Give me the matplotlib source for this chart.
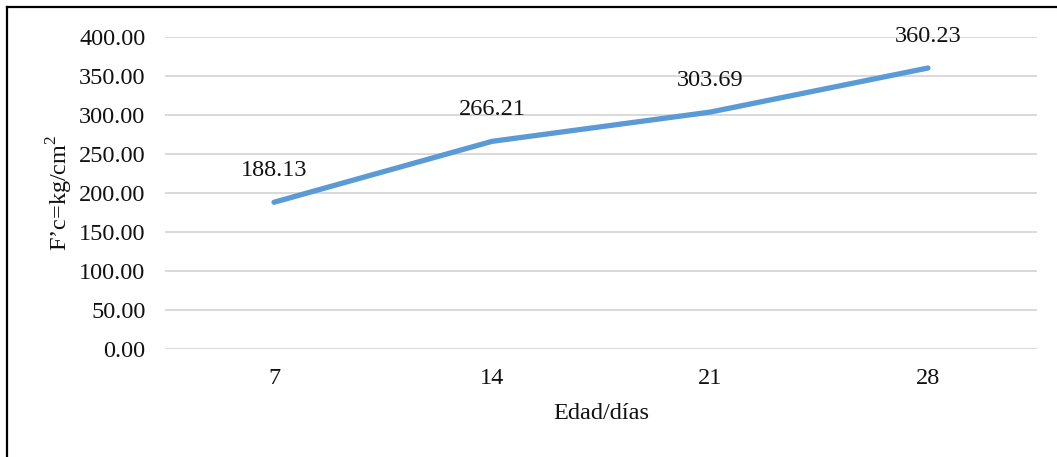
import matplotlib

matplotlib.use("Agg")
import matplotlib.pyplot as plt
from matplotlib.lines import Line2D

# compressive strength by curing age
edades = ["7", "14", "21", "28"]
resistencia = [188.13, 266.21, 303.69, 360.23]
y_ticks = [0, 50, 100, 150, 200, 250, 300, 350, 400]

W, H = 1057, 457
FS = 17.5
plt.rcParams["font.family"] = ["Liberation Serif", "DejaVu Serif"]
plt.rcParams["mathtext.fontset"] = "custom"
plt.rcParams["mathtext.rm"] = "Liberation Serif"

fig = plt.figure(figsize=(W / 100, H / 100), dpi=100)
ax = fig.add_axes([165 / W, 108 / H, 872 / W, 312 / H])

xs = list(range(len(edades)))
ax.plot(xs, resistencia, color="#5B9BD5", lw=3.8, solid_capstyle="round", zorder=3)
for x, v in zip(xs, resistencia):
    ax.annotate(f"{v:.2f}", (x, v), xytext=(0, 23), textcoords="offset points",
                ha="center", va="center", fontsize=FS, color="#111111")

ax.set_xlim(-0.5, len(edades) - 0.5)
ax.set_ylim(0, 400)
ax.set_xticks(xs)
ax.set_xticklabels(edades)
ax.set_yticks(y_ticks)
ax.set_yticklabels([f"{t:.2f}" for t in y_ticks])
ax.tick_params(length=0, labelsize=FS, labelcolor="#111111")
ax.tick_params(axis="y", pad=14)
ax.tick_params(axis="x", pad=14)
ax.grid(axis="y", color="#D9D9D9", lw=1.4)
ax.set_axisbelow(True)
for s in ax.spines.values():
    s.set_visible(False)

ax.set_xlabel("Edad/días", fontsize=FS, color="#111111", labelpad=10)
ax.set_ylabel("F’c=kg/cm$^{\\mathrm{2}}$", fontsize=FS, color="#111111", labelpad=3)

# outer frame (only left and top edges fall inside the image)
fig.add_artist(Line2D([6.5 / W, 6.5 / W], [0, 1 - 7 / H], transform=fig.transFigure,
                      color="black", lw=1.6))
fig.add_artist(Line2D([6.5 / W, 1], [1 - 7 / H, 1 - 7 / H], transform=fig.transFigure,
                      color="black", lw=1.6))

fig.savefig("out.png", dpi=100)
